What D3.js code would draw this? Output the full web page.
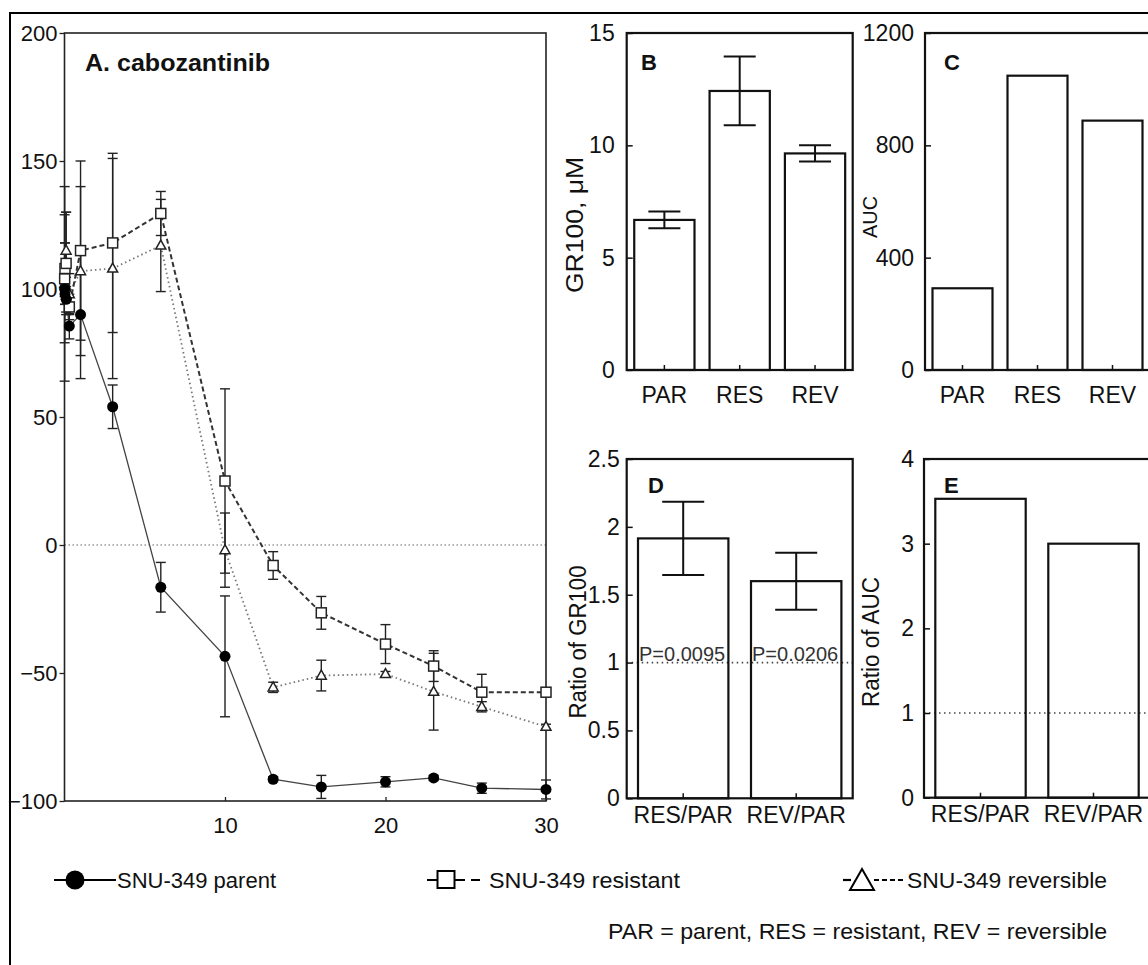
<!DOCTYPE html>
<html><head><meta charset="utf-8">
<script src="https://cdn.jsdelivr.net/npm/d3@7"></script>
<style>
body{margin:0;background:#fff}
text{font-family:"Liberation Sans",Arial,Helvetica,sans-serif;fill:#111}
</style>
</head><body>
<svg id="chart" width="1148" height="965"></svg>
<script>
// ---------- DATA ----------
const conc = [0.01, 0.03, 0.1, 0.3, 1, 3, 6, 10, 13, 16, 20, 23, 26, 30];
const parentVals = [100, 98, 96, 85.5, 90, 54, -16.5, -43.5, -91.5, -94.5, -92.5, -91, -95, -95.5];
const parentErr  = [3, 4, 5, 5, 25, 8.5, 9.7, 23.6, 1, 4.5, 2, 1, 2, 3.7];
const resistantVals = [104, 108, 110, 93, 115, 118, 129.5, 25, -8, -26.5, -38.7, -47.3, -57.5, -57.5];
const resistantErr  = [25, 10, 20, 5, 35, 35, 8.6, 36, 5.4, 6.4, 7.6, 6, 7, 1];
const reversibleVals = [102, 106, 115, 98, 107, 108, 117, -2, -55.6, -51, -50.4, -57.3, -63.2, -71];
const reversibleErr  = [38, 12, 15, 8, 33, 43, 18, 14.5, 2, 6, 1, 15, 2, 1];
const seriesNames = ["SNU-349 parent", "SNU-349 resistant", "SNU-349 reversible"];
const titleA = "A. cabozantinib";
const yTicksA = [-100, -50, 0, 50, 100, 150, 200];
const xTicksA = [10, 20, 30];

const barCats = ["PAR", "RES", "REV"];
const gr100 = [6.68, 12.42, 9.64];
const gr100Err = [0.37, 1.53, 0.36];
const auc = [291, 1048, 888];
const ratioCats = ["RES/PAR", "REV/PAR"];
const ratioGR = [1.915, 1.60];
const ratioGRErr = [0.27, 0.21];
const ratioAUC = [3.53, 3.0];
const pLabels = ["P=0.0095", "P=0.0206"];
const yTicksB = [0, 5, 10, 15];
const yTicksC = [0, 400, 800, 1200];
const yTicksD = [0, 0.5, 1, 1.5, 2, 2.5];
const yTicksE = [0, 1, 2, 3, 4];
const footnote = "PAR = parent, RES = resistant, REV = reversible";

// ---------- SETUP ----------
const svg = d3.select("#chart");
svg.append("rect").attr("x", 10).attr("y", 13).attr("width", 1200).attr("height", 1000)
  .attr("fill", "none").attr("stroke", "#000").attr("stroke-width", 2);
const FF = '"Liberation Sans",Arial,sans-serif';
const fmt = d3.format("~g");

// ---------- PANEL A ----------
const xA = d3.scaleLinear().domain([0, 30]).range([64.5, 546]);
const yA = d3.scaleLinear().domain([-100, 200]).range([801, 33]);
const gA = svg.append("g");

gA.append("line").attr("x1", xA(0)).attr("x2", xA(30)).attr("y1", yA(0)).attr("y2", yA(0))
  .attr("stroke", "#666").attr("stroke-width", 1.2).attr("stroke-dasharray", "1.5,2.5");

const yAxA = gA.append("g").attr("transform", `translate(${xA(0)},0)`)
  .call(d3.axisLeft(yA).tickValues(yTicksA).tickSize(5).tickPadding(2).tickFormat(fmt));
const xAxA = gA.append("g").attr("transform", `translate(0,${yA(-100)})`)
  .call(d3.axisBottom(xA).tickValues(xTicksA).tickSize(-4).tickPadding(16).tickFormat(fmt));
[yAxA, xAxA].forEach(a => {
  a.select(".domain").remove();
  a.selectAll("line").attr("stroke", "#222").attr("stroke-width", 1.3);
  a.selectAll("text").attr("font-size", 22).attr("fill", "#111").style("font-family", FF);
});

gA.append("rect").attr("x", xA(0)).attr("y", yA(200)).attr("width", xA(30) - xA(0)).attr("height", yA(-100) - yA(200))
  .attr("fill", "none").attr("stroke", "#222").attr("stroke-width", 1.6);

const series = [
  {vals: reversibleVals, err: reversibleErr, stroke: "#777", width: 1.8, dash: "1.5,3", marker: "tri"},
  {vals: resistantVals, err: resistantErr, stroke: "#333", width: 2, dash: "5,3", marker: "sq"},
  {vals: parentVals, err: parentErr, stroke: "#444", width: 1.3, dash: null, marker: "circ"}
];

const lineGen = d3.line().x(d => xA(d.x)).y(d => yA(d.y));
series.forEach(s => {
  s.pts = conc.map((c, i) => ({x: c, y: s.vals[i], e: s.err[i]}));
  gA.append("path").datum(s.pts).attr("d", lineGen).attr("fill", "none")
    .attr("stroke", s.stroke).attr("stroke-width", s.width).attr("stroke-dasharray", s.dash);
});
series.forEach(s => {
  const eb = gA.append("g").attr("stroke", "#222").attr("stroke-width", 1.4);
  s.pts.forEach(p => {
    const cx = xA(p.x);
    eb.append("line").attr("x1", cx).attr("x2", cx).attr("y1", yA(p.y + p.e)).attr("y2", yA(p.y - p.e));
    [p.y + p.e, p.y - p.e].forEach(v => {
      eb.append("line").attr("x1", cx - 5).attr("x2", cx + 5).attr("y1", yA(v)).attr("y2", yA(v));
    });
  });
});
function drawMarker(g, type, cx, cy, size, sw) {
  if (type === "circ") {
    g.append("circle").attr("cx", cx).attr("cy", cy).attr("r", size / 2).attr("fill", "#000");
  } else if (type === "sq") {
    g.append("rect").attr("x", cx - size / 2).attr("y", cy - size / 2).attr("width", size).attr("height", size)
      .attr("fill", "#fff").attr("stroke", "#222").attr("stroke-width", sw);
  } else {
    const h = size * 0.9;
    g.append("path").attr("d", `M${cx},${cy - h * 0.6}L${cx + size / 2},${cy + h * 0.4}L${cx - size / 2},${cy + h * 0.4}Z`)
      .attr("fill", "#fff").attr("stroke", "#222").attr("stroke-width", sw);
  }
}
series.forEach(s => {
  const mg = gA.append("g");
  s.pts.forEach(p => drawMarker(mg, s.marker, xA(p.x), yA(p.y), s.marker === "circ" ? 11 : 10, 1.5));
});

gA.append("text").attr("x", 85).attr("y", 71).attr("font-size", 23).attr("font-weight", "bold")
  .attr("textLength", 185).attr("lengthAdjust", "spacingAndGlyphs").text(titleA);

// ---------- BAR PANELS ----------
function barPanel(o) {
  const g = svg.append("g");
  const x = d3.scaleBand().domain(o.cats).range(o.xr).paddingInner(0.2).paddingOuter(0.1);
  const y = d3.scaleLinear().domain(o.yd).range(o.yr);
  if (o.refLine != null) {
    g.append("line").attr("x1", o.xr[0]).attr("x2", o.xr[1]).attr("y1", y(o.refLine)).attr("y2", y(o.refLine))
      .attr("stroke", "#444").attr("stroke-width", 1.6).attr("stroke-dasharray", "1.5,3.5");
  }
  g.selectAll("rect.bar").data(o.vals).join("rect").attr("class", "bar")
    .attr("x", (d, i) => x(o.cats[i])).attr("width", x.bandwidth())
    .attr("y", d => y(d)).attr("height", d => y(0) - y(d))
    .attr("fill", "none").attr("stroke", "#111").attr("stroke-width", 2.2);
  if (o.errs) {
    const eb = g.append("g").attr("stroke", "#111").attr("stroke-width", 2);
    o.vals.forEach((v, i) => {
      const cx = x(o.cats[i]) + x.bandwidth() / 2;
      const e = o.errs[i];
      eb.append("line").attr("x1", cx).attr("x2", cx).attr("y1", y(v + e)).attr("y2", y(v - e));
      [v + e, v - e].forEach(w => eb.append("line").attr("x1", cx - o.cap).attr("x2", cx + o.cap).attr("y1", y(w)).attr("y2", y(w)));
    });
  }
  const ay = g.append("g").attr("transform", `translate(${o.xr[0]},0)`)
    .call(d3.axisLeft(y).tickValues(o.yTicks).tickSize(-6).tickPadding(o.yPad).tickFormat(fmt));
  const ax = g.append("g").attr("transform", `translate(0,${o.yr[0]})`)
    .call(d3.axisBottom(x).tickSize(-5).tickPadding(o.xPad));
  [ay, ax].forEach(a => {
    a.select(".domain").remove();
    a.selectAll("line").attr("stroke", "#111").attr("stroke-width", 1.5);
    a.selectAll("text").attr("font-size", 23).attr("fill", "#111").style("font-family", FF);
  });
  g.append("rect").attr("x", o.xr[0]).attr("y", o.yr[1]).attr("width", o.xr[1] - o.xr[0]).attr("height", o.yr[0] - o.yr[1])
    .attr("fill", "none").attr("stroke", "#111").attr("stroke-width", 2.2);
  g.append("text").attr("x", o.letterPos[0]).attr("y", o.letterPos[1]).attr("font-size", 22)
    .attr("font-weight", "bold").text(o.letter);
  g.append("text").attr("transform", `translate(${o.ylabPos[0]},${o.ylabPos[1]}) rotate(-90)`)
    .attr("text-anchor", "middle").attr("dominant-baseline", "middle").attr("font-size", o.ylabSize)
    .attr("textLength", o.ylabLen).attr("lengthAdjust", "spacingAndGlyphs")
    .text(o.ylab);
  if (o.pLabels) {
    o.pLabels.forEach((t, i) => {
      g.append("text").attr("x", x(o.cats[i]) + 1).attr("y", y(o.refLine) - 2).attr("font-size", 20)
        .style("fill", "#333").text(t);
    });
  }
  return g;
}

barPanel({cats: barCats, vals: gr100, errs: gr100Err, cap: 16, xr: [626.7, 852.7], yd: [0, 15], yr: [370, 33],
  yTicks: yTicksB, yPad: 12, xPad: 17, letter: "B", letterPos: [641, 70],
  ylab: "GR100, μM", ylabPos: [577, 225], ylabSize: 23, ylabLen: 136});
barPanel({cats: barCats, vals: auc, xr: [925, 1150], yd: [0, 1200], yr: [370, 33],
  yTicks: yTicksC, yPad: 11, xPad: 17, letter: "C", letterPos: [944, 70],
  ylab: "AUC", ylabPos: [872, 217], ylabSize: 20, ylabLen: 42});
barPanel({cats: ratioCats, vals: ratioGR, errs: ratioGRErr, cap: 21, xr: [626.7, 852.7], yd: [0, 2.5], yr: [798.3, 459],
  yTicks: yTicksD, yPad: 7, xPad: 8, letter: "D", letterPos: [648, 493], refLine: 1, pLabels: pLabels,
  ylab: "Ratio of GR100", ylabPos: [580, 642], ylabSize: 23, ylabLen: 153});
barPanel({cats: ratioCats, vals: ratioAUC, xr: [924, 1150], yd: [0, 4], yr: [797.7, 459],
  yTicks: yTicksE, yPad: 10, xPad: 8, letter: "E", letterPos: [944, 493], refLine: 1,
  ylab: "Ratio of AUC", ylabPos: [873, 642], ylabSize: 23, ylabLen: 130});

// ---------- LEGEND ----------
const lg = svg.append("g");
const ly = 880;
// parent
lg.append("line").attr("x1", 54).attr("x2", 116).attr("y1", ly).attr("y2", ly).attr("stroke", "#000").attr("stroke-width", 2);
lg.append("circle").attr("cx", 75).attr("cy", ly).attr("r", 9.5).attr("fill", "#000");
lg.append("text").attr("x", 117).attr("y", ly).attr("dy", "0.35em").attr("font-size", 22)
  .attr("textLength", 159).attr("lengthAdjust", "spacingAndGlyphs").text(seriesNames[0]);
// resistant
lg.append("line").attr("x1", 427).attr("x2", 465).attr("y1", ly).attr("y2", ly).attr("stroke", "#000").attr("stroke-width", 2);
lg.append("line").attr("x1", 471).attr("x2", 480).attr("y1", ly).attr("y2", ly).attr("stroke", "#000").attr("stroke-width", 2);
lg.append("rect").attr("x", 437.5).attr("y", ly - 9).attr("width", 17).attr("height", 17)
  .attr("fill", "#fff").attr("stroke", "#000").attr("stroke-width", 2);
lg.append("text").attr("x", 489).attr("y", ly).attr("dy", "0.35em").attr("font-size", 22)
  .attr("textLength", 191).attr("lengthAdjust", "spacingAndGlyphs").text(seriesNames[1]);
// reversible
lg.append("line").attr("x1", 843).attr("x2", 851).attr("y1", ly).attr("y2", ly).attr("stroke", "#000").attr("stroke-width", 2.2);
lg.append("line").attr("x1", 874).attr("x2", 906).attr("y1", ly).attr("y2", ly).attr("stroke", "#000").attr("stroke-width", 2.2)
  .attr("stroke-dasharray", "5,3");
lg.append("path").attr("d", `M862,${ly - 11}L874,${ly + 10}L850,${ly + 10}Z`)
  .attr("fill", "#fff").attr("stroke", "#000").attr("stroke-width", 2);
lg.append("text").attr("x", 907).attr("y", ly).attr("dy", "0.35em").attr("font-size", 22)
  .attr("textLength", 200).attr("lengthAdjust", "spacingAndGlyphs").text(seriesNames[2]);
// footnote
lg.append("text").attr("x", 1107).attr("y", 931).attr("dy", "0.35em").attr("text-anchor", "end").attr("font-size", 22)
  .attr("textLength", 499).attr("lengthAdjust", "spacingAndGlyphs").text(footnote);
</script>
</body></html>
